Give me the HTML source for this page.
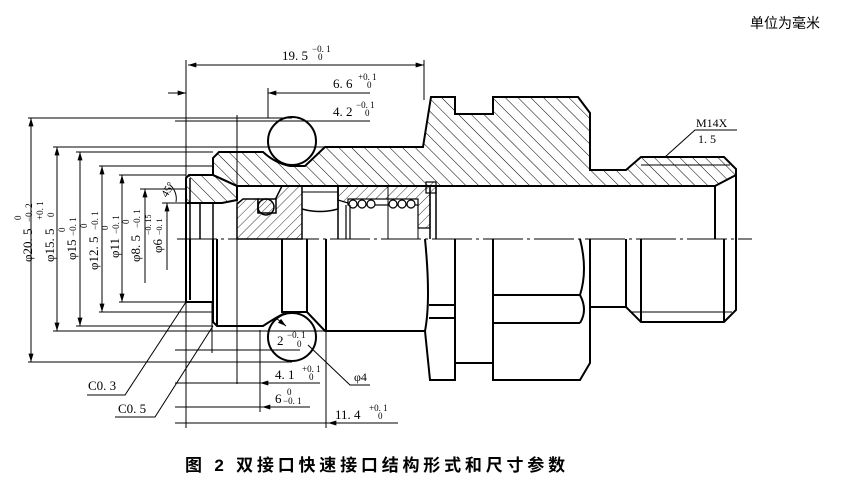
<!DOCTYPE html>
<html><head><meta charset="utf-8"><style>
html,body{margin:0;padding:0;background:#fff;}
svg{display:block;}
text{font-family:"Liberation Serif","Noto Serif CJK SC",serif;fill:#000;}
.cj{font-family:"Liberation Sans","Noto Sans CJK SC",sans-serif;}
</style></head><body>
<svg width="846" height="482" viewBox="0 0 846 482" xmlns="http://www.w3.org/2000/svg">
<defs>
<pattern id="h1" patternUnits="userSpaceOnUse" width="9" height="9" patternTransform="rotate(-45)"><line x1="0" y1="0" x2="0" y2="9" stroke="#000" stroke-width="1"/></pattern>
<pattern id="h2" patternUnits="userSpaceOnUse" width="7" height="7" patternTransform="rotate(45)"><line x1="0" y1="0" x2="0" y2="7" stroke="#000" stroke-width="0.8"/></pattern>
<pattern id="h3" patternUnits="userSpaceOnUse" width="5" height="5" patternTransform="rotate(45)"><line x1="0" y1="0" x2="0" y2="5" stroke="#000" stroke-width="0.8"/></pattern>
<marker id="a" viewBox="0 0 10 6" refX="10" refY="3" markerWidth="10" markerHeight="5" orient="auto-start-reverse" markerUnits="userSpaceOnUse"><path d="M0,0 L10,3 L0,6z" fill="#000"/></marker>
</defs>

<text x="750" y="28" class="cj" font-size="14">单位为毫米</text>
<text x="185" y="471" class="cj" font-size="17" font-weight="bold" letter-spacing="3.8">图 2  双接口快速接口结构形式和尺寸参数</text>

<line x1="177" y1="239" x2="752" y2="239" stroke="#000" stroke-width="1" stroke-dasharray="40,4,3,4"/>

<path d="M213,175 L213,158 L219,152 L263,152 Q275,163 290,166 L305,166 L325,147 L423,147 L431,97 L455,97 L455,114 L493,114 L493,97 L578,97 L590,113 L590,170 L626,170 L641,157 L724,157 L736,169 L736,175 L715,186 L237,186 Z" fill="url(#h1)" stroke="#000" stroke-width="2"/>
<path d="M186,203 L186,178 L189,175 L213,175 L237,186 L237,200 L222,203 Z" fill="url(#h1)" stroke="#000" stroke-width="2"/>
<path d="M237,239 L237,204 L243,199 L258,199 L258,212 L275,212 L275,200 L282,186 L302,186 L302,239 Z" fill="url(#h2)" stroke="#000" stroke-width="1.5"/>
<rect x="258" y="199" width="18" height="14" fill="#fff" stroke="#000" stroke-width="1.5"/>
<circle cx="266" cy="207" r="8" fill="url(#h3)" stroke="#000" stroke-width="1.5"/>
<path d="M302,186 L338,186 L338,209 Q320,214 302,209" fill="none" stroke="#000" stroke-width="1.5"/>
<line x1="302" y1="192" x2="338" y2="192" stroke="#000" stroke-width="1"/>
<line x1="338" y1="186" x2="338" y2="239" stroke="#000" stroke-width="1.5"/>
<path d="M338,186 L430,186 L430,228 L418,228 L418,203 L348,203 L338,200 Z" fill="url(#h2)" stroke="#000" stroke-width="1.2"/>
<rect x="348" y="199" width="70" height="6" fill="#fff" stroke="#000" stroke-width="1.2"/>
<g fill="#fff" stroke="#000" stroke-width="1.2">
<circle cx="353" cy="204" r="4"/><circle cx="362" cy="204" r="4"/><circle cx="371" cy="204" r="4"/>
<circle cx="393" cy="204" r="4"/><circle cx="402" cy="204" r="4"/><circle cx="411" cy="204" r="4"/>
</g>
<line x1="346" y1="205" x2="346" y2="239" stroke="#000" stroke-width="1.2"/>
<line x1="350" y1="205" x2="350" y2="239" stroke="#000" stroke-width="1.2"/>
<line x1="388" y1="186" x2="388" y2="239" stroke="#000" stroke-width="1"/>
<line x1="418" y1="228" x2="418" y2="239" stroke="#000" stroke-width="1"/>
<rect x="426" y="182" width="10" height="11" fill="url(#h3)" stroke="#000" stroke-width="1.2"/>
<line x1="430" y1="186" x2="430" y2="239" stroke="#000" stroke-width="1.5"/>
<line x1="436" y1="186" x2="436" y2="239" stroke="#000" stroke-width="1.5"/>
<line x1="715" y1="186" x2="715" y2="239" stroke="#000" stroke-width="2"/>
<line x1="736" y1="175" x2="736" y2="239" stroke="#000" stroke-width="2"/>
<line x1="641" y1="165" x2="730" y2="165" stroke="#000" stroke-width="1"/>
<line x1="190" y1="178" x2="190" y2="239" stroke="#000" stroke-width="1.5"/>
<line x1="186" y1="203" x2="186" y2="239" stroke="#000" stroke-width="2"/>
<line x1="200" y1="203" x2="200" y2="239" stroke="#000" stroke-width="1.5"/>
<line x1="213" y1="203" x2="213" y2="239" stroke="#000" stroke-width="1.5"/>
<line x1="200" y1="203" x2="222" y2="203" stroke="#000" stroke-width="1.5"/>
<circle cx="292" cy="141" r="24" fill="#fff" stroke="#000" stroke-width="2"/>

<g fill="none" stroke="#000" stroke-width="2">
<path d="M186,239 L186,302 L213,302"/>
<line x1="190" y1="239" x2="190" y2="300"/>
<path d="M213,239 L213,322 L217,326 L263,326 Q275,318 285,313"/>
<line x1="217" y1="239" x2="217" y2="326"/>
<path d="M282,239 L282,312 L307,312 L325,331 L425,331"/>
<line x1="307" y1="239" x2="307" y2="312"/>
<line x1="326" y1="239" x2="326" y2="331"/>
<path d="M425,239 Q431,300 425,331 L430,380 L455,380 L455,239"/>
<line x1="429" y1="305" x2="455" y2="305"/>
<line x1="429" y1="318" x2="455" y2="318"/>
<path d="M455,363 L493,363"/>
<path d="M493,239 L493,380 L580,380 L590,363 L590,239"/>
<path d="M580,239 Q588,270 580,295 Q588,310 580,323"/>
<line x1="493" y1="295" x2="580" y2="295"/>
<line x1="493" y1="323" x2="580" y2="323"/>
<path d="M590,307 L626,307 L641,322 L724,322 L736,310 L736,239"/>
<line x1="626" y1="239" x2="626" y2="307"/>
<line x1="641" y1="239" x2="641" y2="322"/>
<line x1="724" y1="239" x2="724" y2="322"/>
</g>
<line x1="630" y1="312" x2="732" y2="312" stroke="#000" stroke-width="1"/>
<circle cx="292" cy="337" r="24" fill="none" stroke="#000" stroke-width="2"/>

<g stroke="#000" stroke-width="1" fill="none">
<line x1="186" y1="60" x2="186" y2="428"/>
<line x1="424" y1="60" x2="424" y2="100"/>
<line x1="237" y1="115" x2="237" y2="384"/>
<line x1="268" y1="88" x2="268" y2="118"/>
<line x1="260" y1="330" x2="260" y2="412"/>
<line x1="326" y1="331" x2="326" y2="428"/>
<line x1="212" y1="302" x2="212" y2="353"/>
<line x1="188" y1="65" x2="424" y2="65" marker-start="url(#a)" marker-end="url(#a)"/>
<line x1="168" y1="93" x2="186" y2="93" marker-end="url(#a)"/>
<line x1="370" y1="93" x2="268" y2="93" marker-end="url(#a)"/>
<line x1="175" y1="121" x2="370" y2="121"/>
<line x1="175" y1="383" x2="320" y2="383"/>
<line x1="275" y1="383" x2="260" y2="383" marker-end="url(#a)"/>
<line x1="175" y1="407" x2="310" y2="407"/>
<line x1="280" y1="407" x2="262" y2="407" marker-end="url(#a)"/>
<line x1="175" y1="423" x2="398" y2="423"/>
<line x1="345" y1="423" x2="328" y2="423" marker-end="url(#a)"/>
<line x1="175" y1="350" x2="300" y2="350"/>
<line x1="31" y1="118" x2="31" y2="362" marker-start="url(#a)" marker-end="url(#a)"/>
<line x1="28" y1="118" x2="292" y2="118"/><line x1="28" y1="362" x2="292" y2="362"/>
<line x1="57" y1="147" x2="57" y2="331" marker-start="url(#a)" marker-end="url(#a)"/>
<line x1="53" y1="147" x2="325" y2="147"/><line x1="53" y1="331" x2="325" y2="331"/>
<line x1="80" y1="152" x2="80" y2="326" marker-start="url(#a)" marker-end="url(#a)"/>
<line x1="76" y1="152" x2="213" y2="152"/><line x1="76" y1="326" x2="213" y2="326"/>
<line x1="102" y1="166" x2="102" y2="312" marker-start="url(#a)" marker-end="url(#a)"/>
<line x1="99" y1="166" x2="213" y2="166"/><line x1="99" y1="312" x2="213" y2="312"/>
<line x1="122" y1="175" x2="122" y2="302" marker-start="url(#a)" marker-end="url(#a)"/>
<line x1="119" y1="175" x2="186" y2="175"/><line x1="119" y1="302" x2="186" y2="302"/>
<line x1="145" y1="189" x2="145" y2="283" marker-start="url(#a)"/>
<line x1="140" y1="189" x2="186" y2="189"/>
<line x1="167" y1="203" x2="167" y2="270" marker-start="url(#a)"/>
<line x1="162" y1="203" x2="186" y2="203"/>
<line x1="177" y1="239" x2="190" y2="239"/>
<path d="M170,185 A18,18 0 0 1 176,202"/>
<polyline points="186,302 125,395 87,395"/>
<polyline points="213,326 155,417 115,417"/>
<polyline points="308,345 350,385 370,385"/>
<line x1="276" y1="318" x2="286" y2="326" marker-end="url(#a)"/>
<polyline points="665,157 695,130 737,130"/>
</g>

<g font-size="13">
<text x="282" y="60">19. 5</text><text x="312" y="52" font-size="9">−0. 1</text><text x="318" y="60" font-size="9">0</text>
<text x="333" y="88">6. 6</text><text x="358" y="80" font-size="9">+0. 1</text><text x="367" y="88" font-size="9">0</text>
<text x="333" y="116">4. 2</text><text x="356" y="108" font-size="9">−0. 1</text><text x="365" y="116" font-size="9">0</text>
<text x="275" y="379">4. 1</text><text x="302" y="372" font-size="9">+0. 1</text><text x="309" y="380" font-size="9">0</text>
<text x="275" y="403">6</text><text x="287" y="395" font-size="9">0</text><text x="283" y="404" font-size="9">−0. 1</text>
<text x="335" y="419">11. 4</text><text x="369" y="411" font-size="9">+0. 1</text><text x="378" y="419" font-size="9">0</text>
<text x="277" y="345">2</text><text x="287" y="338" font-size="9">−0. 1</text><text x="297" y="347" font-size="9">0</text>
<text x="354" y="381" font-size="12">φ4</text>
<text x="88" y="390">C0. 3</text>
<text x="118" y="413">C0. 5</text>
<text x="696" y="127" font-size="12">M14X</text>
<text x="698" y="143" font-size="12">1. 5</text>
<text transform="translate(167,198) rotate(-60)" font-size="11">45°</text>
</g>
<g font-size="13">
<g transform="translate(32,262) rotate(-90)"><text x="0" y="0">φ20. 5</text><text x="42" y="-11" font-size="9">0</text><text x="40" y="0" font-size="9">−0. 2</text></g>
<g transform="translate(54,262) rotate(-90)"><text x="0" y="0">φ15. 5</text><text x="42" y="-11" font-size="9">+0. 1</text><text x="45" y="0" font-size="9">0</text></g>
<g transform="translate(76,260) rotate(-90)"><text x="0" y="0">φ15</text><text x="28" y="-11" font-size="9">0</text><text x="24" y="0" font-size="9">−0. 1</text></g>
<g transform="translate(98,270) rotate(-90)"><text x="0" y="0">φ12. 5</text><text x="42" y="-11" font-size="9">0</text><text x="40" y="0" font-size="9">−0. 1</text></g>
<g transform="translate(119,258) rotate(-90)"><text x="0" y="0">φ11</text><text x="28" y="-11" font-size="9">0</text><text x="24" y="0" font-size="9">−0. 1</text></g>
<g transform="translate(140,262) rotate(-90)"><text x="0" y="0">φ8. 5</text><text x="38" y="-11" font-size="9">0</text><text x="34" y="0" font-size="9">−0. 1</text></g>
<g transform="translate(162,253) rotate(-90)"><text x="0" y="0">φ6</text><text x="18" y="-11" font-size="8">−0. 15</text><text x="18" y="0" font-size="8">−0. 1</text></g>
</g>
</svg>
</body></html>
